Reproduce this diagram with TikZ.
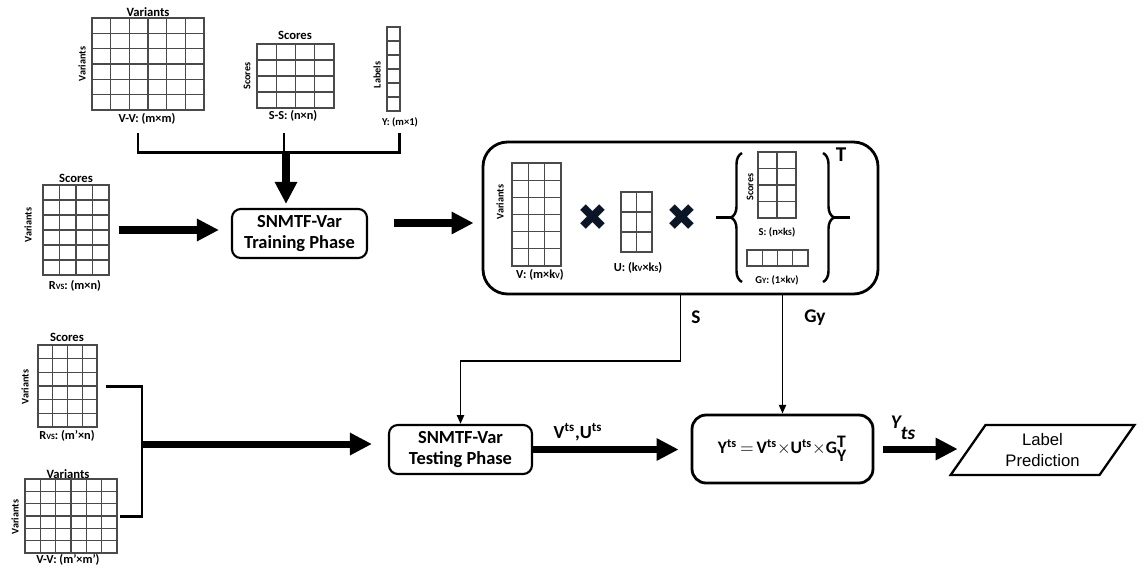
\documentclass[tikz,border=0pt]{standalone}
\usepackage{fontspec}
\setmainfont{Carlito}
\newfontfamily\arialfont{Liberation Sans}
\newfontfamily\symfont{DejaVu Sans}
\usetikzlibrary{arrows.meta, positioning, shapes.geometric, calc, decorations.pathreplacing}
\newdimen\unitpx
\unitpx=0.02cm
\definecolor{cgrid}{HTML}{4A4A4A}
\definecolor{ccross}{HTML}{0A1526}
\tikzset{
  every picture/.style={line width=1.1pt},
  mat/.style n args={4}{draw=cgrid, line width=0.6pt, inner sep=0pt,
    minimum width=#3\unitpx, minimum height=#4\unitpx,
    path picture={
      \foreach \i in {1,...,#1}
        \draw[cgrid, line width=0.6pt] ($(path picture bounding box.south west)!\i/#1!(path picture bounding box.south east)$)
          -- ($(path picture bounding box.north west)!\i/#1!(path picture bounding box.north east)$);
      \foreach \j in {1,...,#2}
        \draw[cgrid, line width=0.6pt] ($(path picture bounding box.south west)!\j/#2!(path picture bounding box.north west)$)
          -- ($(path picture bounding box.south east)!\j/#2!(path picture bounding box.north east)$);
    }},
  head/.style={font=\fontsize{7.2}{8}\selectfont\bfseries, inner sep=0pt},
  side/.style={font=\fontsize{5.8}{6}\selectfont\bfseries, rotate=90, inner sep=0pt},
  dims/.style={font=\fontsize{7}{8}\selectfont\bfseries, inner sep=0pt},
  phase/.style={draw, rounded corners=5pt, line width=1.2pt, align=center,
    font=\fontsize{10.5}{12}\selectfont\bfseries, inner sep=0pt},
  link/.style={line width=1.7pt},
  bigarrow/.style={-{Triangle[length=12.5pt, width=12pt]}, line width=4pt},
  thinarrow/.style={-{Triangle[length=5pt, width=4pt]}, line width=1.1pt},
  flow/.style={font=\fontsize{11}{12}\selectfont\bfseries, inner sep=0pt},
  crossmark/.style={font=\symfont\fontsize{21}{21}\selectfont, text=ccross, inner sep=0pt},
  brc/.style={decorate, decoration={brace, amplitude=11\unitpx}, line width=1.4pt},
}
\newcommand{\sm}[1]{{\fontsize{4.6}{5}\selectfont #1}}
\begin{document}
\begin{tikzpicture}[x=0.02cm, y=0.02cm]
  \useasboundingbox (0,0) rectangle (1145,-566);
  % training inputs
  \node[mat={6}{6}{112}{92}] (vv) at (148,-64) {};
  \node[head] (vvh) at (148,-12) {Variants};
  \node[side] (vvs) at (82,-64) {Variants};
  \node[dims] (vvd) at (147,-119) {V-V: (m×m)};
  \node[mat={4}{4}{77}{64}] (ss) at (295.5,-76) {};
  \node[head] (ssh) at (295,-35) {Scores};
  \node[side] (sss) at (247,-76) {Scores};
  \node[dims] (ssd) at (293,-116) {S-S: (n×n)};
  \node[mat={1}{6}{13}{84}] (yv) at (393.5,-69) {};
  \node[side] (yvs) at (377,-75) {Labels};
  \node[dims, font=\fontsize{6}{7}\selectfont\bfseries] (yvd) at (400,-122) {Y: (m×1)};
  \node[mat={4}{6}{66}{90}] (rvs) at (76,-230) {};
  \node[head] (rvsh) at (76,-178) {Scores};
  \node[side] (rvss) at (28,-225) {Variants};
  \node[dims] (rvsd) at (75,-286) {R\sm{VS}: (m×n)};
  % bracket into training
  \coordinate (b1) at (138,-133);
  \coordinate (b2) at (284,-133);
  \coordinate (b3) at (399,-133);
  \coordinate (bj) at (286,-152);
  \node[phase, minimum width=135\unitpx, minimum height=49\unitpx] (train) at (299.5,-233.5) {SNMTF-Var\\Training Phase};
  \draw[link] (b1) |- (bj) -| (b3);
  \draw[link] (b2) -- (b2 |- bj);
  \draw[bigarrow, shorten >=4\unitpx] (bj) -- (bj |- train.north);
  \draw[bigarrow, shorten <=9\unitpx, shorten >=12\unitpx] (rvs.east) -- (rvs.east -| train.west);
  % factorisation result
  \node[draw, rounded corners=14pt, line width=1.6pt, minimum width=395\unitpx, minimum height=152\unitpx] (big) at (680.5,-218) {};
  \coordinate (tr) at (0,-223);
  \draw[bigarrow, shorten <=26\unitpx, shorten >=8\unitpx] (train.east |- tr) -- (big.west |- tr);
  \node[mat={3}{6}{49}{103}] (vm) at (536.5,-214.5) {};
  \node[side] (vms) at (500,-202) {Variants};
  \node[dims] (vmd) at (540,-275) {V: (m×k\sm{V})};
  \node[crossmark] (x1) at (593,-218) {✖};
  \node[mat={2}{3}{31}{60}] (um) at (636.5,-222) {};
  \node[dims] (umd) at (638,-268) {U: (k\sm{V}×k\sm{S})};
  \node[crossmark] (x2) at (682,-218) {✖};
  \node[mat={2}{4}{38}{66}] (smat) at (777,-185) {};
  \node[side] (sms) at (750,-187) {Scores};
  \node[dims, font=\fontsize{6}{7}\selectfont\bfseries] (smd) at (777,-232) {S: (n×k\sm{S})};
  \node[mat={4}{1}{61}{16}] (gy) at (777.5,-258) {};
  \node[dims, font=\fontsize{6}{7}\selectfont\bfseries] (gyd) at (777,-280) {G\sm{Y}: (1×k\sm{V})};
  \coordinate (lb1) at (742,-282);
  \coordinate (lb2) at (742,-153);
  \coordinate (rb1) at (823,-153);
  \coordinate (rb2) at (823,-282);
  \draw[brc] (lb1) -- (lb2);
  \draw[line width=1.4pt] (731,-217.5) -- (716,-217.5);
  \draw[brc] (rb1) -- (rb2);
  \draw[line width=1.4pt] (834,-217.5) -- (850,-217.5);
  \node[font=\fontsize{12}{12}\selectfont\bfseries, inner sep=0pt] (tt) at (841,-155) {T};
  % testing inputs
  \node[mat={4}{6}{59}{82}] (rvt) at (67.5,-386) {};
  \node[head] (rvth) at (67,-337) {Scores};
  \node[side] (rvts) at (25,-387) {Variants};
  \node[dims] (rvtd) at (67,-436) {R\sm{VS}: (m’×n)};
  \node[mat={6}{6}{92}{74}] (vvt) at (71,-516) {};
  \node[head] (vvth) at (68,-474) {Variants};
  \node[side] (vvts) at (15,-517) {Variants};
  \node[dims] (vvtd) at (68,-560) {V-V: (m’×m’)};
  \node[phase, minimum width=143\unitpx, minimum height=49\unitpx] (test) at (460.5,-449.5) {SNMTF-Var\\Testing Phase};
  \coordinate (tj) at (142,-444);
  \draw[link] ([xshift=8\unitpx]rvt.east) -| (tj) |- ([xshift=2\unitpx]vvt.east);
  \draw[bigarrow, shorten >=16\unitpx] (tj) -- (tj -| test.west);
  % prediction
  \node[draw, rounded corners=8pt, line width=1.6pt, minimum width=181\unitpx, minimum height=68\unitpx, inner sep=0pt] (form) at (782.5,-449)
    {\fontsize{10}{12}\selectfont\bfseries Y\textsuperscript{ts}\,$=$\,V\textsuperscript{ts}$\times$U\textsuperscript{ts}$\times$G$^{\textbf{T}}_{\textbf{Y}}$};
  \draw[thinarrow] (big.south) -- ++(0,-66) -| (test.north);
  \node[flow] (slab) at (696,-317) {S};
  \draw[thinarrow] (big.south -| form.north) -- (form.north);
  \node[flow] (gylab) at (815,-318) {Gy};
  \draw[bigarrow, shorten >=12\unitpx] (test.east) -- (test.east -| form.west);
  \node[font=\fontsize{10.5}{12}\selectfont\bfseries, inner sep=0pt] (vulab) at (578,-432) {V\textsuperscript{ts},U\textsuperscript{ts}};
  \node[trapezium, trapezium left angle=55, trapezium right angle=125, trapezium stretches=true, draw, line width=1.3pt,
    minimum width=185\unitpx, minimum height=50\unitpx, inner sep=0pt, align=center,
    font=\arialfont\fontsize{9.5}{11.5}\selectfont] (pred) at (1042.5,-450) {Label\\Prediction};
  \draw[bigarrow, shorten <=9\unitpx, shorten >=9\unitpx] (form.east) -- (form.east -| pred.west);
  \node[font=\fontsize{11}{12}\selectfont\bfseries\itshape, inner sep=0pt] (ylab) at (903,-428) {Y\raisebox{-1.2ex}{ts}};
\end{tikzpicture}
\end{document}
